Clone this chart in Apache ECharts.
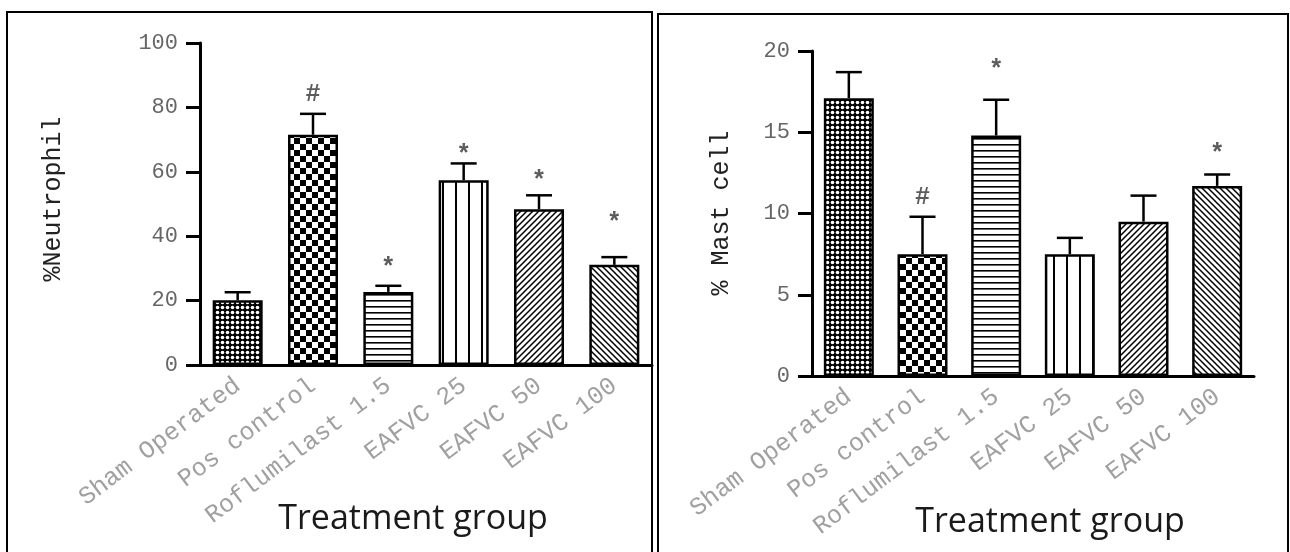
<!DOCTYPE html>
<html>
<head>
<meta charset="utf-8">
<script src="https://cdn.jsdelivr.net/npm/echarts@6/dist/echarts.min.js"></script>
<style>
  html, body { margin: 0; padding: 0; background: #fff; }
  #chart { width: 1290px; height: 552px; }
</style>
</head>
<body>
<div id="chart"></div>
<script>
// groups on the x axis (same for both panels)
const categories = ['Sham Operated', 'Pos control', 'Roflumilast 1.5', 'EAFVC 25', 'EAFVC 50', 'EAFVC 100'];

// left panel: % neutrophil, mean and error (SEM)
const neutrophilMean = [20.1, 71.5, 22.7, 57.4, 48.4, 31.1];
const neutrophilErr = [2.5, 6.5, 1.9, 5.2, 4.3, 2.4];
const neutrophilMark = ['', '#', '*', '*', '*', '*'];
const neutrophilMarkAt = [null, 84, 30, 65, 57, 44];
const neutrophilTicks = [0, 20, 40, 60, 80, 100];

// right panel: % mast cell
const mastMean = [17.1, 7.5, 14.8, 7.5, 9.5, 11.7];
const mastErr = [1.6, 2.3, 2.2, 1.0, 1.6, 0.7];
const mastMark = ['', '#', '*', '', '', '*'];
const mastMarkAt = [null, 11, 18.8, null, null, 13.6];
const mastTicks = [0, 5, 10, 15, 20];

const monoFont = '"Liberation Mono", "DejaVu Sans Mono", monospace';

// fill patterns, one per group
function tile(w, h, draw) {
  const c = document.createElement('canvas');
  c.width = w;
  c.height = h;
  const ctx = c.getContext('2d');
  ctx.fillStyle = '#fff';
  ctx.fillRect(0, 0, w, h);
  ctx.fillStyle = '#000';
  ctx.strokeStyle = '#000';
  draw(ctx);
  return { image: c, repeat: 'repeat' };
}
const patterns = [
  tile(5, 5, ctx => {
    ctx.fillRect(0, 0, 5, 5);
    ctx.fillStyle = '#fff';
    ctx.beginPath();
    ctx.arc(2.5, 2.5, 1.8, 0, Math.PI * 2);
    ctx.fill();
  }),
  tile(12, 12, ctx => {
    ctx.fillRect(0, 0, 6, 6);
    ctx.fillRect(6, 6, 6, 6);
  }),
  tile(6, 6, ctx => {
    ctx.fillRect(0, 0, 6, 1.6);
  }),
  tile(13, 6, ctx => {
    ctx.fillRect(0, 0, 2, 6);
  }),
  tile(6, 6, ctx => {
    ctx.lineWidth = 1.5;
    ctx.beginPath();
    ctx.moveTo(-1, 7); ctx.lineTo(7, -1);
    ctx.moveTo(-1, 1); ctx.lineTo(1, -1);
    ctx.moveTo(5, 7); ctx.lineTo(7, 5);
    ctx.stroke();
  }),
  tile(6, 6, ctx => {
    ctx.lineWidth = 1.5;
    ctx.beginPath();
    ctx.moveTo(-1, -1); ctx.lineTo(7, 7);
    ctx.moveTo(5, -1); ctx.lineTo(7, 1);
    ctx.moveTo(-1, 5); ctx.lineTo(1, 7);
    ctx.stroke();
  })
];

function errorBar(params, api) {
  const base = api.coord([api.value(0), api.value(1)]);
  const top = api.coord([api.value(0), api.value(1) + api.value(2)]);
  const style = { stroke: '#000', lineWidth: 2.5 };
  return {
    type: 'group',
    children: [
      { type: 'line', shape: { x1: base[0], y1: base[1], x2: top[0], y2: top[1] }, style },
      { type: 'line', shape: { x1: top[0] - 13, y1: top[1], x2: top[0] + 13, y2: top[1] }, style }
    ]
  };
}

function panelSeries(idx, mean, err, mark, markAt) {
  const marks = [];
  markAt.forEach((v, i) => {
    if (v !== null) marks.push({ name: mark[i], value: [i, v] });
  });
  return [
    {
      type: 'bar',
      xAxisIndex: idx,
      yAxisIndex: idx,
      barWidth: 50,
      data: mean.map((v, i) => ({
        value: v,
        itemStyle: { color: patterns[i], borderColor: '#000', borderWidth: 2.5 }
      }))
    },
    {
      type: 'custom',
      xAxisIndex: idx,
      yAxisIndex: idx,
      renderItem: errorBar,
      encode: { x: 0, y: 1 },
      z: 5,
      data: mean.map((v, i) => [i, v, err[i]])
    },
    {
      type: 'scatter',
      xAxisIndex: idx,
      yAxisIndex: idx,
      symbolSize: 1,
      itemStyle: { color: 'rgba(0,0,0,0)' },
      label: {
        show: true,
        position: 'inside',
        formatter: p => p.name,
        fontFamily: monoFont,
        fontSize: 25,
        fontWeight: 'bold',
        color: '#333'
      },
      data: marks
    }
  ];
}

function xAxisFor(idx) {
  return {
    type: 'category',
    gridIndex: idx,
    data: categories,
    axisLine: { lineStyle: { color: '#000', width: 3 } },
    axisTick: { alignWithLabel: true, length: 9, lineStyle: { color: '#000', width: 4 } },
    axisLabel: {
      interval: 0,
      rotate: 37,
      margin: 18,
      fontFamily: monoFont,
      fontSize: 25,
      color: '#a0a0a0'
    }
  };
}

function yAxisFor(idx, ticks) {
  return {
    type: 'value',
    gridIndex: idx,
    min: ticks[0],
    max: ticks[ticks.length - 1],
    interval: ticks[1] - ticks[0],
    splitLine: { show: false },
    axisLine: { show: true, lineStyle: { color: '#000', width: 3 } },
    axisTick: { show: true, length: 14, lineStyle: { color: '#000', width: 3 } },
    axisLabel: { margin: 22, fontFamily: monoFont, fontSize: 22, color: '#666' }
  };
}

const chart = echarts.init(document.getElementById('chart'));
chart.setOption({
  animation: false,
  backgroundColor: '#fff',
  grid: [
    { left: 200, top: 43, width: 452, height: 322 },
    { left: 812, top: 51, width: 442, height: 325 }
  ],
  xAxis: [xAxisFor(0), xAxisFor(1)],
  yAxis: [yAxisFor(0, neutrophilTicks), yAxisFor(1, mastTicks)],
  series: [
    ...panelSeries(0, neutrophilMean, neutrophilErr, neutrophilMark, neutrophilMarkAt),
    ...panelSeries(1, mastMean, mastErr, mastMark, mastMarkAt)
  ],
  graphic: [
    { type: 'rect', shape: { x: 7, y: 12, width: 645, height: 600 }, style: { fill: 'none', stroke: '#000', lineWidth: 2 } },
    { type: 'rect', shape: { x: 658, y: 14, width: 630, height: 600 }, style: { fill: 'none', stroke: '#000', lineWidth: 2 } },
    {
      type: 'text', x: 53, y: 199, rotation: Math.PI / 2,
      style: { text: '%Neutrophil', font: '25px ' + monoFont, fill: '#222', textAlign: 'center', textVerticalAlign: 'middle' }
    },
    {
      type: 'text', x: 721, y: 213, rotation: Math.PI / 2,
      style: { text: '% Mast cell', font: '25px ' + monoFont, fill: '#222', textAlign: 'center', textVerticalAlign: 'middle' }
    },
    {
      type: 'text', x: 413, y: 519,
      style: { text: 'Treatment group', font: '34px "Open Sans", sans-serif', fill: '#1a1a1a', textAlign: 'center', textVerticalAlign: 'middle' }
    },
    {
      type: 'text', x: 1050, y: 522,
      style: { text: 'Treatment group', font: '34px "Open Sans", sans-serif', fill: '#1a1a1a', textAlign: 'center', textVerticalAlign: 'middle' }
    }
  ]
});
</script>
</body>
</html>
